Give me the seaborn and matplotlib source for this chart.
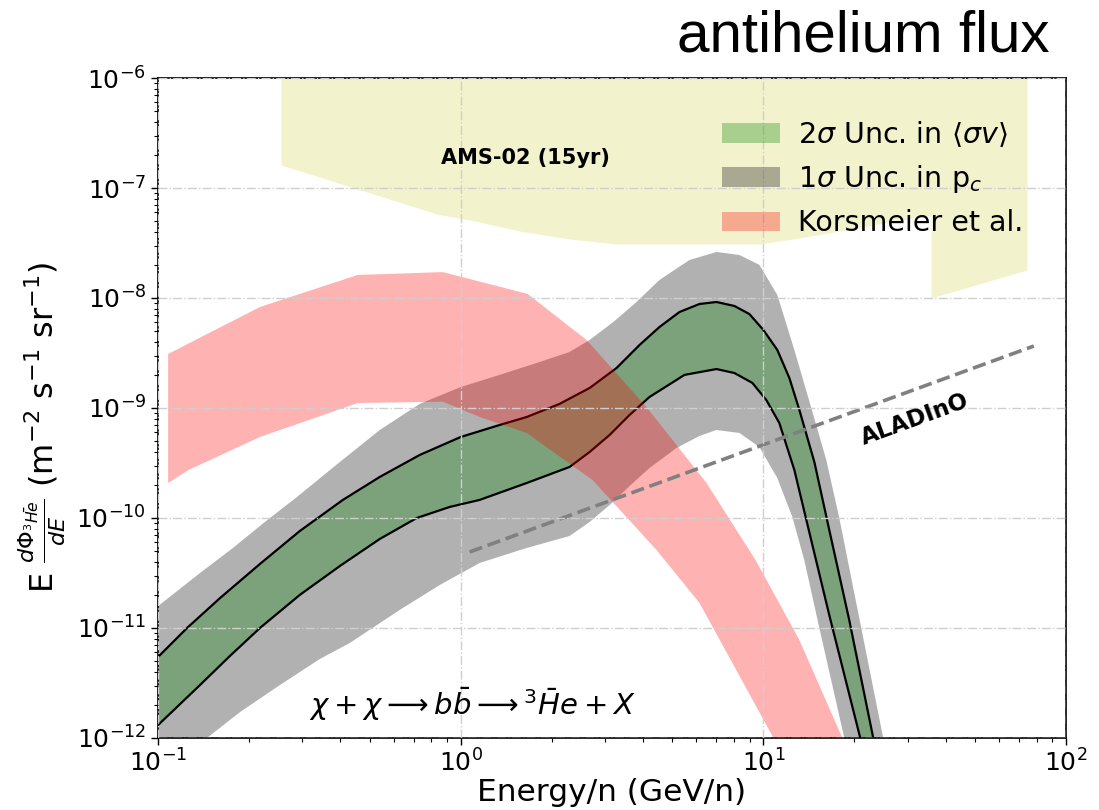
import numpy as np
import matplotlib
matplotlib.use("Agg")
import matplotlib.pyplot as plt
import seaborn as sns
from matplotlib.patches import Patch

# 2-sigma band in <sigma v> (black-edged green band)
e_sv_hi = [0.1, 0.1247, 0.1602, 0.2171, 0.2941, 0.408, 0.540, 0.732, 1.0, 1.345, 1.652,
           2.122, 2.666, 3.273, 3.898, 4.538, 5.283, 6.150, 6.998, 8.024, 8.991, 10.0,
           11.12, 12.19, 13.15, 14.74, 16.51, 19.22, 23.07, 24.15]
f_sv_hi = [5.45e-12, 1.0e-11, 1.87e-11, 3.82e-11, 7.62e-11, 1.46e-10, 2.36e-10, 3.74e-10,
           5.45e-10, 7.01e-10, 8.28e-10, 1.09e-9, 1.52e-9, 2.31e-9, 3.74e-9, 5.45e-9,
           7.46e-9, 8.82e-9, 9.20e-9, 8.46e-9, 7.15e-9, 5.12e-9, 3.37e-9, 1.87e-9,
           9.6e-10, 3.23e-10, 7.78e-11, 1.18e-11, 1.0e-12, 5.7e-13]
e_sv_lo = [0.1, 0.1376, 0.1728, 0.2171, 0.2941, 0.3988, 0.5404, 0.7157, 0.9197, 1.155,
           1.652, 2.289, 2.666, 3.103, 3.613, 4.206, 5.488, 6.998, 8.024, 9.199, 10.23,
           11.29, 12.66, 13.87, 16.51, 20.90, 21.88]
f_sv_lo = [1.31e-12, 3.03e-12, 5.57e-12, 1.0e-11, 2.0e-11, 3.66e-11, 6.45e-11, 1.0e-10,
           1.26e-10, 1.46e-10, 2.08e-10, 2.91e-10, 3.98e-10, 5.68e-10, 8.64e-10, 1.26e-9,
           2.0e-9, 2.26e-9, 2.08e-9, 1.69e-9, 1.18e-9, 7.31e-10, 2.73e-10, 9.59e-11,
           1.31e-11, 1.0e-12, 5.7e-13]

# 1-sigma band in the coalescence momentum p_c (gray band)
e_pc_hi = [0.1, 0.1376, 0.1768, 0.2254, 0.2875, 0.3988, 0.5404, 0.7322, 1.0, 1.345, 1.823,
           2.289, 2.666, 3.223, 3.810, 4.538, 5.700, 6.998, 8.334, 9.700, 11.12, 12.66,
           14.40, 16.14, 17.82, 21.06, 24.89, 26.05]
f_pc_hi = [1.58e-11, 3.16e-11, 5.34e-11, 9.2e-11, 1.55e-10, 3.23e-10, 6.31e-10, 1.09e-9,
           1.55e-9, 2.0e-9, 2.62e-9, 3.23e-9, 4.15e-9, 6.18e-9, 9.2e-9, 1.46e-8, 2.215e-8,
           2.62e-8, 2.46e-8, 2.0e-8, 1.065e-8, 3.37e-9, 1.0e-9, 3.37e-10, 1.0e-10,
           1.0e-11, 1.0e-12, 5.1e-13]
e_pc_lo = [0.1, 0.1182, 0.1451, 0.1865, 0.2527, 0.3424, 0.4302, 0.6290, 0.8526, 1.155,
           1.652, 2.289, 2.666, 3.103, 3.613, 4.206, 5.164, 6.150, 6.998, 8.334, 9.700,
           11.12, 12.47, 13.65, 15.31, 18.51, 19.22]
f_pc_lo = [4.6e-13, 6.7e-13, 1.0e-12, 1.72e-12, 3.03e-12, 5.23e-12, 7.31e-12, 1.46e-11,
           2.46e-11, 3.90e-11, 5.34e-11, 6.86e-11, 9.2e-11, 1.31e-10, 1.95e-10, 2.85e-10,
           4.33e-10, 5.57e-10, 6.31e-10, 5.93e-10, 4.42e-10, 2.31e-10, 1.02e-10, 4.15e-11,
           1.0e-11, 1.0e-12, 6.3e-13]

# Korsmeier et al. prediction
e_kors_hi = [0.108, 0.217, 0.457, 0.873, 1.663, 2.606, 4.111, 6.49, 9.42, 13.15, 18.24, 19.2]
f_kors_hi = [3.10e-9, 8.28e-9, 1.62e-8, 1.72e-8, 1.09e-8, 4.15e-9, 1.02e-9, 2.08e-10,
             4.15e-11, 7.78e-12, 1.0e-12, 7.0e-13]
e_kors_lo = [0.108, 0.126, 0.217, 0.457, 0.873, 1.156, 1.652, 2.729, 4.436, 6.15, 10.8, 11.45]
f_kors_lo = [2.08e-10, 2.73e-10, 5.45e-10, 1.11e-9, 1.14e-9, 8.28e-10, 5.93e-10, 2.21e-10,
             5.12e-11, 1.69e-11, 1.0e-12, 7.0e-13]

# AMS-02 (15 yr) sensitivity: excluded region lies above this edge
e_ams = [0.255, 0.834, 1.156, 1.566, 2.29, 3.27, 9.70, 13.15, 35.8, 35.8, 74.3]
f_ams = [1.62e-7, 5.81e-8, 4.91e-8, 4.06e-8, 3.44e-8, 3.10e-8, 3.10e-8, 3.51e-8,
         5.69e-8, 1.0e-8, 1.80e-8]

# ALADInO sensitivity
e_aladino = [1.07, 78.3]
f_aladino = [4.91e-11, 3.66e-9]

x_limits = [1e-1, 1e2]
y_limits = [1e-12, 1e-6]

sns.set_style("ticks")
plt.rcParams["font.family"] = ["DejaVu Sans"]
plt.rcParams["mathtext.fontset"] = "dejavusans"
for key in ("text.color", "axes.labelcolor", "xtick.color", "ytick.color", "axes.edgecolor"):
    plt.rcParams[key] = "black"

fig = plt.figure(figsize=(10.99, 8.10), dpi=100)
ax = fig.add_axes([0.1438, 0.0889, 0.8262, 0.8148])
ax.set_xscale("log")
ax.set_yscale("log")

c_ams, c_pc, c_sv, c_kors = "y", (0.235, 0.235, 0.235), "green", "red"

ax.fill_between(e_ams, f_ams, y_limits[1] * 1.5, color=c_ams, alpha=0.2, lw=0, zorder=1)


def band(e_hi, f_hi, e_lo, f_lo, **kw):
    xs = np.r_[e_hi, e_lo[::-1]]
    ys = np.r_[f_hi, f_lo[::-1]]
    ax.fill(xs, ys, lw=0, **kw)


band(e_pc_hi, f_pc_hi, e_pc_lo, f_pc_lo, color=c_pc, alpha=0.4, zorder=1.1)
band(e_sv_hi, f_sv_hi, e_sv_lo, f_sv_lo, color=c_sv, alpha=0.3, zorder=1.2)
sns.lineplot(x=e_sv_hi, y=f_sv_hi, ax=ax, color="black", lw=1.6, zorder=1.3)
sns.lineplot(x=e_sv_lo, y=f_sv_lo, ax=ax, color="black", lw=1.6, zorder=1.3)
band(e_kors_hi, f_kors_hi, e_kors_lo, f_kors_lo, color=c_kors, alpha=0.3, zorder=1.4)
sns.lineplot(x=e_aladino, y=f_aladino, ax=ax, color="gray", lw=2.6, ls="--", zorder=1.5)

ax.set_xlim(*x_limits)
ax.set_ylim(*y_limits)

ax.grid(True, which="major", ls="-.", color="#cfcfcf", lw=1.0, zorder=3)
ax.set_axisbelow(False)
ax.tick_params(which="both", direction="out", labelsize=18, top=False, right=False)
ax.tick_params(which="major", length=5, width=1)
ax.tick_params(which="minor", length=3, width=0.8)
for s in ax.spines.values():
    s.set_visible(True)
    s.set_linewidth(1.2)
    s.set_color("black")

ax.set_xlabel("Energy/n (GeV/n)", fontsize=22.5)
ax.xaxis.set_label_coords(0.5, -0.061)
ax.set_ylabel(r"E $\frac{d\Phi_{^3\bar{He}}}{dE}$ (m$^{-2}$ s$^{-1}$ sr$^{-1}$)", fontsize=23)
ax.yaxis.set_label_coords(-0.099, 0.47)

ax.text(0.405, 0.879, "AMS-02 (15yr)", transform=ax.transAxes, ha="center", va="center",
        fontsize=15, fontweight="bold")
ax.text(0.833, 0.482, "ALADInO", transform=ax.transAxes, ha="center", va="center",
        fontsize=16.5, fontweight="bold", rotation=20)
ax.text(0.346, 0.022, r"$\chi + \chi \longrightarrow b\bar{b} \longrightarrow {}^3\bar{H}e + X$",
        transform=ax.transAxes, ha="center", va="bottom", fontsize=21)

handles = [Patch(color=c_sv, alpha=0.3, lw=0),
           Patch(color=c_pc, alpha=0.4, lw=0),
           Patch(color=c_kors, alpha=0.3, lw=0)]
labels = [r"2$\sigma$ Unc. in $\langle\sigma v\rangle$",
          r"1$\sigma$ Unc. in p$_c$",
          "Korsmeier et al."]
ax.legend(handles, labels, loc="upper right", bbox_to_anchor=(0.966, 0.955),
          borderaxespad=0, frameon=False, fontsize=20.5, handletextpad=0.65,
          handlelength=2.05)

fig.text(0.955, 0.936, "antihelium flux", ha="right", va="baseline", fontsize=42,
         family="Liberation Sans", color="black")

fig.savefig("out.png", dpi=100)
